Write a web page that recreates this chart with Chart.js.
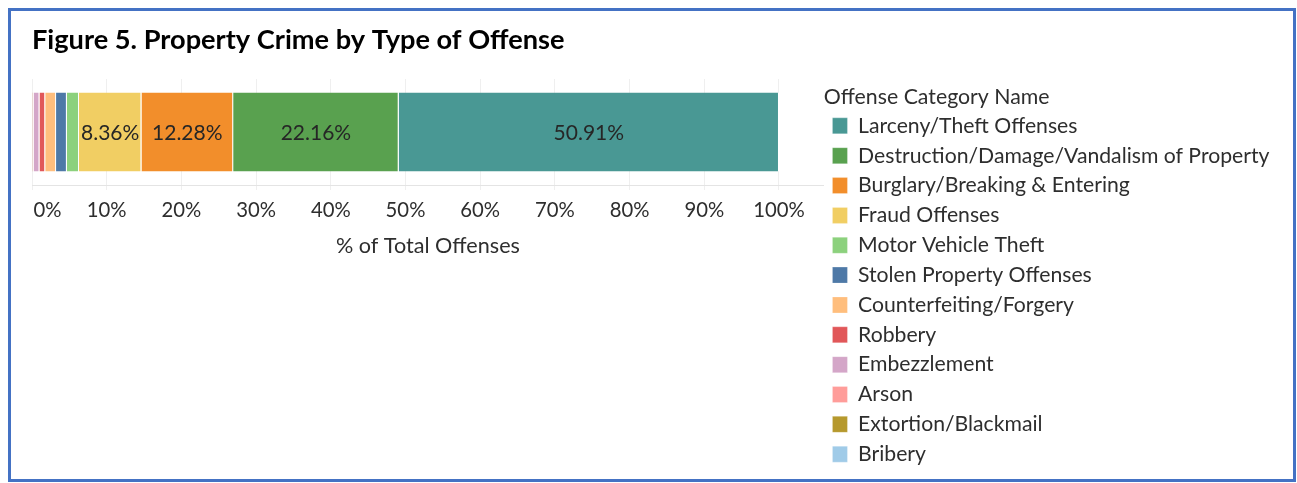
<!DOCTYPE html>
<html>
<head>
<meta charset="utf-8">
<title>Property Crime by Type of Offense</title>
<script src="https://cdn.jsdelivr.net/npm/chart.js@4.4.0/dist/chart.umd.min.js"></script>
<style>
  html, body { margin: 0; padding: 0; background: #ffffff; }
  #frame {
    position: absolute; left: 8px; top: 8px;
    width: 1282px; height: 468px;
    border: 3px solid #4472C4; background: #ffffff;
  }
  #frame canvas { display: block; }
</style>
</head>
<body>
<div id="frame"><canvas id="crimeChart" width="1282" height="468"></canvas></div>
<script>
// Offense categories, listed from the left end of the stacked bar to the right end.
const offenseCategories = [
  'Bribery',
  'Extortion/Blackmail',
  'Arson',
  'Embezzlement',
  'Robbery',
  'Counterfeiting/Forgery',
  'Stolen Property Offenses',
  'Motor Vehicle Theft',
  'Fraud Offenses',
  'Burglary/Breaking & Entering',
  'Destruction/Damage/Vandalism of Property',
  'Larceny/Theft Offenses'
];

// Share of all property offenses, in percent.
const shareOfTotal = [0.02, 0.05, 0.15, 0.78, 0.77, 1.45, 1.45, 1.62, 8.36, 12.28, 22.16, 50.91];

const categoryColors = [
  '#A0CBE8', '#B6992D', '#FF9D9A', '#D4A6C8', '#E15759', '#FFBE7D',
  '#4E79A7', '#8CD17D', '#F1CE63', '#F28E2B', '#59A14F', '#499894'
];

// Percent ticks along the value axis.
const percentTicks = [0, 10, 20, 30, 40, 50, 60, 70, 80, 90, 100];

const rowLabels = ['All property offenses'];

const FONT = 'Lato, "Open Sans", "DejaVu Sans", sans-serif';
Chart.defaults.font.family = FONT;
Chart.defaults.color = '#333333';

// Writes each segment's percentage in its middle when the text fits inside it.
const segmentLabels = {
  id: 'segmentLabels',
  afterDatasetsDraw(chart) {
    const ctx = chart.ctx;
    ctx.save();
    ctx.font = '21px ' + FONT;
    ctx.fillStyle = '#262626';
    ctx.textAlign = 'center';
    ctx.textBaseline = 'middle';
    chart.data.datasets.forEach((ds, i) => {
      const meta = chart.getDatasetMeta(i);
      meta.data.forEach((bar, j) => {
        const text = ds.data[j].toFixed(2) + '%';
        const props = bar.getProps(['x', 'base'], true);
        const span = Math.abs(props.x - props.base);
        if (ctx.measureText(text).width + 2 > span) return;
        const c = bar.getCenterPoint();
        ctx.fillText(text, c.x, c.y + 1);
      });
    });
    ctx.restore();
  }
};

const datasets = offenseCategories.map((name, i) => ({
  label: name,
  data: [shareOfTotal[i]],
  backgroundColor: categoryColors[i],
  borderColor: '#ffffff',
  borderWidth: { left: 0, right: 1, top: 0, bottom: 0 },
  borderSkipped: false,
  categoryPercentage: 1,
  barPercentage: 0.745
}));

new Chart(document.getElementById('crimeChart'), {
  type: 'bar',
  data: { labels: rowLabels, datasets },
  plugins: [segmentLabels],
  options: {
    indexAxis: 'y',
    responsive: false,
    animation: false,
    layout: { padding: { left: 21, right: 19.2, top: 0, bottom: 0 } },
    scales: {
      x: {
        stacked: true,
        min: 0,
        max: 106,
        afterBuildTicks: (scale) => { scale.ticks = percentTicks.map(v => ({ value: v })); },
        beforeFit: (scale) => { scale.maxHeight = scale.chart.height; },
        afterFit: (scale) => { scale.paddingLeft = 0; scale.paddingRight = 0; },
        grid: { color: '#EFEFEF', lineWidth: 1, drawTicks: true, tickLength: 5 },
        border: { display: true, color: '#E4E4E4', width: 1 },
        ticks: {
          color: '#2e2e2e',
          font: { size: 20.3 },
          padding: 7.8,
          maxRotation: 0,
          autoSkip: false,
          callback: (v) => (v === 0 ? '      0%' : v + '%')
        },
        title: {
          display: true,
          text: '% of Total Offenses',
          color: '#2e2e2e',
          font: { size: 21.6 },
          padding: { top: 3.1, bottom: 220 }
        }
      },
      y: {
        stacked: true,
        display: false,
        grid: { display: false }
      }
    },
    plugins: {
      tooltip: { enabled: false },
      title: {
        display: true,
        text: 'Figure 5. Property Crime by Type of Offense',
        align: 'start',
        color: '#000000',
        font: { size: 27.2, weight: 'bold' },
        padding: { top: 12.7, bottom: 22.7 }
      },
      legend: {
        position: 'right',
        align: 'start',
        reverse: true,
        maxWidth: 450,
        title: {
          display: true,
          text: 'Offense Category Name',
          position: 'start',
          color: '#2e2e2e',
          font: { size: 21.3, lineHeight: 1 },
          padding: { top: 75.35, bottom: -1.05 }
        },
        labels: {
          boxWidth: 15,
          boxHeight: 16,
          padding: 8.65,
          color: '#2e2e2e',
          font: { size: 21.2 }
        }
      }
    }
  }
});
</script>
</body>
</html>
